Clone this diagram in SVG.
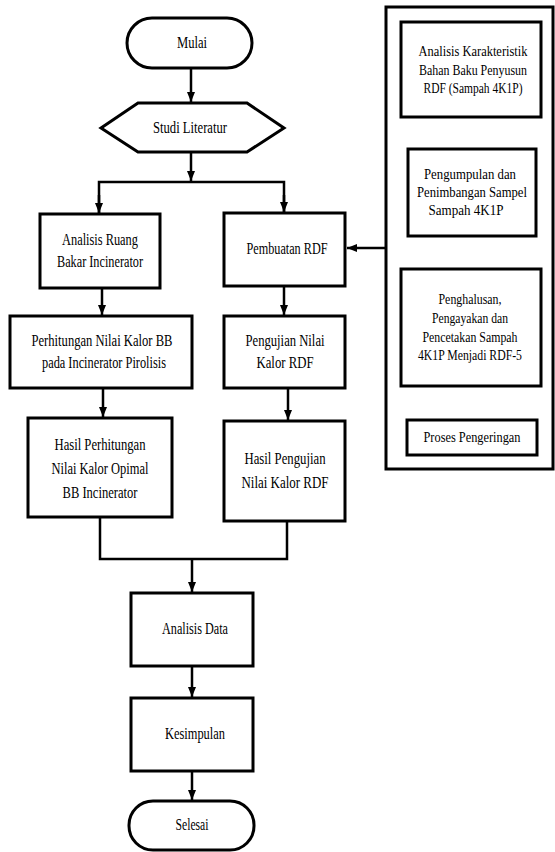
<svg xmlns="http://www.w3.org/2000/svg" width="555" height="852" viewBox="0 0 555 852">
<defs>
<marker id="ah" markerUnits="userSpaceOnUse" markerWidth="10" markerHeight="10" viewBox="0 0 10 10" refX="10" refY="5" orient="auto">
<path d="M0,1 L10,5 L0,9 Z" fill="#000"/>
</marker>
</defs>
<style>
.n{fill:#fff;stroke:#000;stroke-width:3}
.c{fill:none;stroke:#000;stroke-width:2.5}
.a{fill:none;stroke:#000;stroke-width:2.5;marker-end:url(#ah)}
text{font-family:"Liberation Serif","Times New Roman",serif;font-size:16px;fill:#000;text-anchor:middle}
.s{font-size:14.5px}
</style>
<rect width="555" height="852" fill="#fff"/>
<g id="connectors">
<line class="a" x1="191" y1="68" x2="191" y2="102"/>
<line class="a" x1="191" y1="152" x2="191" y2="181"/>
<polyline class="c" points="99,213 99,182 284,182 284,213"/>
<line class="a" x1="99" y1="195" x2="99" y2="213"/>
<line class="a" x1="284" y1="195" x2="284" y2="212"/>
<line class="a" x1="386" y1="248" x2="347" y2="248"/>
<line class="a" x1="102" y1="288" x2="102" y2="315"/>
<line class="a" x1="284" y1="286" x2="284" y2="315"/>
<line class="a" x1="103" y1="388" x2="103" y2="417"/>
<line class="a" x1="288" y1="388" x2="288" y2="420"/>
<polyline class="c" points="100,517 100,559 287,559 287,521"/>
<line class="a" x1="192" y1="559" x2="192" y2="592"/>
<line class="a" x1="192" y1="666" x2="192" y2="697"/>
<line class="a" x1="192" y1="771" x2="192" y2="800"/>
<line class="a" x1="472" y1="117" x2="472" y2="148"/>
<line class="a" x1="472" y1="236" x2="472" y2="268"/>
<line class="a" x1="472" y1="386" x2="472" y2="419"/>
</g>
<g id="mulai"><rect class="n" x="127" y="18" width="125" height="50" rx="25"/><text x="192" y="48" textLength="30" lengthAdjust="spacingAndGlyphs">Mulai</text></g>
<g id="studi"><polygon class="n" points="101,128 138,103 247,103 284,128 247,152 138,152"/><text x="190" y="133" textLength="74" lengthAdjust="spacingAndGlyphs">Studi Literatur</text></g>
<g id="analisis-ruang"><rect class="n" x="40" y="214" width="120" height="74"/>
<text x="100" y="245" textLength="76" lengthAdjust="spacingAndGlyphs">Analisis Ruang</text>
<text x="100" y="267" textLength="86" lengthAdjust="spacingAndGlyphs">Bakar Incinerator</text></g>
<g id="pembuatan"><rect class="n" x="224" y="213" width="121" height="73"/>
<text x="287" y="254" textLength="81" lengthAdjust="spacingAndGlyphs">Pembuatan RDF</text></g>
<g id="perhitungan"><rect class="n" x="10" y="316" width="182" height="72"/>
<text x="102" y="346" textLength="141" lengthAdjust="spacingAndGlyphs">Perhitungan Nilai Kalor BB</text>
<text x="104" y="368" textLength="124" lengthAdjust="spacingAndGlyphs">pada Incinerator Pirolisis</text></g>
<g id="pengujian"><rect class="n" x="224" y="316" width="121" height="72"/>
<text x="285" y="346" textLength="79" lengthAdjust="spacingAndGlyphs">Pengujian Nilai</text>
<text x="285" y="368" textLength="57" lengthAdjust="spacingAndGlyphs">Kalor RDF</text></g>
<g id="hasil-perhitungan"><rect class="n" x="28" y="418" width="144" height="99"/>
<text x="100" y="450" textLength="91" lengthAdjust="spacingAndGlyphs">Hasil Perhitungan</text>
<text x="100" y="474" textLength="97" lengthAdjust="spacingAndGlyphs">Nilai Kalor Opimal</text>
<text x="100" y="498" textLength="75" lengthAdjust="spacingAndGlyphs">BB Incinerator</text></g>
<g id="hasil-pengujian"><rect class="n" x="224" y="421" width="121" height="100"/>
<text x="285" y="464" textLength="81" lengthAdjust="spacingAndGlyphs">Hasil Pengujian</text>
<text x="285" y="488" textLength="87" lengthAdjust="spacingAndGlyphs">Nilai Kalor RDF</text></g>
<g id="analisis-data"><rect class="n" x="131" y="593" width="122" height="73"/>
<text x="195" y="634" textLength="66" lengthAdjust="spacingAndGlyphs">Analisis Data</text></g>
<g id="kesimpulan"><rect class="n" x="131" y="698" width="122" height="73"/>
<text x="195" y="739" textLength="60" lengthAdjust="spacingAndGlyphs">Kesimpulan</text></g>
<g id="selesai"><rect class="n" x="129" y="801" width="125" height="49" rx="24"/>
<text x="192" y="830" textLength="33" lengthAdjust="spacingAndGlyphs">Selesai</text></g>
<g id="panel"><rect class="n" x="386" y="7" width="167" height="462"/></g>
<g id="karakteristik"><rect class="n" x="401" y="22" width="140" height="95"/>
<text class="s" x="473" y="56" textLength="109" lengthAdjust="spacingAndGlyphs">Analisis Karakteristik</text>
<text class="s" x="473" y="75" textLength="108" lengthAdjust="spacingAndGlyphs">Bahan Baku Penyusun</text>
<text class="s" x="473" y="93" textLength="99" lengthAdjust="spacingAndGlyphs">RDF (Sampah 4K1P)</text></g>
<g id="pengumpulan"><rect class="n" x="408" y="149" width="128" height="87"/>
<text class="s" x="470" y="179" textLength="92" lengthAdjust="spacingAndGlyphs">Pengumpulan dan</text>
<text class="s" x="472" y="197" textLength="110" lengthAdjust="spacingAndGlyphs">Penimbangan Sampel</text>
<text class="s" x="466" y="215" textLength="75" lengthAdjust="spacingAndGlyphs">Sampah 4K1P</text></g>
<g id="penghalusan"><rect class="n" x="401" y="269" width="140" height="117"/>
<text class="s" x="470" y="304" textLength="63" lengthAdjust="spacingAndGlyphs">Penghalusan,</text>
<text class="s" x="470" y="323" textLength="76" lengthAdjust="spacingAndGlyphs">Pengayakan dan</text>
<text class="s" x="470" y="342" textLength="95" lengthAdjust="spacingAndGlyphs">Pencetakan Sampah</text>
<text class="s" x="470" y="360" textLength="104" lengthAdjust="spacingAndGlyphs">4K1P Menjadi RDF-5</text></g>
<g id="pengeringan"><rect class="n" x="407" y="420" width="130" height="35"/>
<text class="s" x="472" y="442" textLength="97" lengthAdjust="spacingAndGlyphs">Proses Pengeringan</text></g>
</svg>
